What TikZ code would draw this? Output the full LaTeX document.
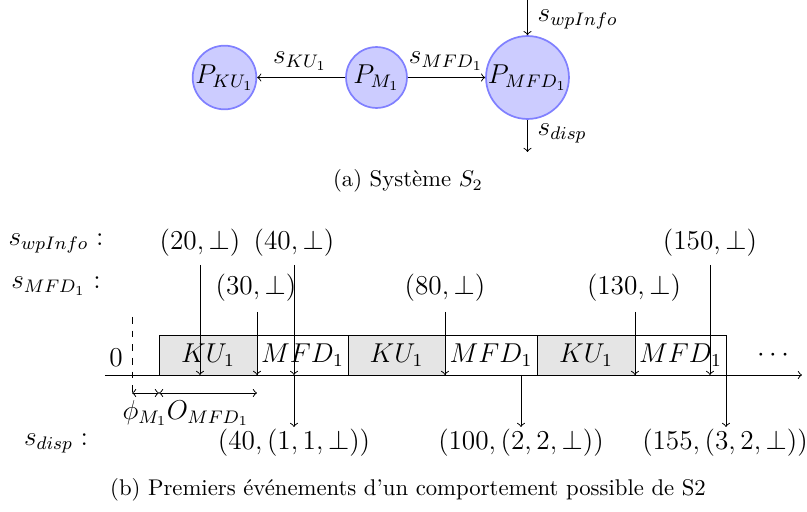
\documentclass[tikz,border=0pt]{standalone}
\begin{document}
\begin{tikzpicture}[x=0.44pt,y=-0.44pt,
  lbl/.style={font=\large,inner sep=1pt},
  captext/.style={font=\normalsize,inner sep=1pt},
  proc/.style={circle,draw=blue!50,fill=blue!20,line width=0.75pt,inner sep=0pt,font=\large},
  taskku/.style={draw,fill=gray!20},
  taskmfd/.style={draw,fill=white},
  evt/.style={->}
]
\useasboundingbox (0,0) rectangle (807,512);

% ---------- (a) system ----------
\node[proc,minimum size=27.3pt] (pku)  at (224.5,77.5) {$P_{KU_1}$};
\node[proc,minimum size=26.8pt] (pm)   at (376.5,77.5) {$P_{M_1}$};
\node[proc,minimum size=34.3pt] (pmfd) at (527.5,77.5) {$P_{MFD_1}$};
\coordinate (win)  at (527.5,0);
\coordinate (dout) at (527.5,152);
\draw[->] (pm) -- (pku);
\draw[->] (pm) -- (pmfd);
\draw[->] (win) -- (pmfd);
\draw[->] (pmfd) -- (dout);
\node[lbl] (lku)  at (300,61) {$s_{KU_1}$};
\node[lbl] (lmfd) at (446,61) {$s_{MFD_1}$};
\node[lbl,anchor=west] (lwp) at (535,19) {$s_{wpInfo}$};
\node[lbl,anchor=west] (ldisp) at (535,133) {$s_{disp}$};
\node[captext] (capa) at (408,181) {(a) Système $S_2$};

% ---------- (b) timeline ----------
\node[lbl] (rwp)   at (56,243) {$s_{wpInfo}:$};
\node[lbl] (rmfd)  at (56,286) {$s_{MFD_1}:$};
\node[lbl] (rdisp) at (56,443) {$s_{disp}:$};

\coordinate (ax0) at (105,375);
\coordinate (ax1) at (802,375);

\draw[taskku]  (159,335) rectangle (257,375);
\draw[taskmfd] (257,335) rectangle (348,375);
\draw[taskku]  (348,335) rectangle (445,375);
\draw[taskmfd] (445,335) rectangle (537,375);
\draw[taskku]  (537,335) rectangle (635,375);
\draw[taskmfd] (635,335) rectangle (726,375);
\node[lbl] (t1) at (208,355) {$KU_1$};
\node[lbl] (t2) at (302.5,355) {$MFD_1$};
\node[lbl] (t3) at (396.5,355) {$KU_1$};
\node[lbl] (t4) at (491,355) {$MFD_1$};
\node[lbl] (t5) at (586,355) {$KU_1$};
\node[lbl] (t6) at (680.5,355) {$MFD_1$};
\node[lbl] (dots) at (773,355) {$\cdots$};
\draw[->] (ax0) -- (ax1);

\node[lbl] (zero) at (116,358) {$0$};
\coordinate (d0) at (132,317);
\coordinate (d1) at (132,397);
\draw[dashed] (d0) -- (d1);

\coordinate (m0) at (132,393);
\coordinate (m1) at (159,393);
\coordinate (m2) at (257,393);
\draw[<->] (m0) -- (m1);
\draw[<->] (m1) -- (m2);
\node[lbl] (phi) at (145,413) {$\phi_{M_1}$};
\node[lbl] (off) at (208,413) {$O_{MFD_1}$};

% wpInfo events
\node[lbl] (w20)  at (200,243) {$(20,\bot)$};
\node[lbl] (w40)  at (294,243) {$(40,\bot)$};
\node[lbl] (w150) at (710,243) {$(150,\bot)$};
\coordinate (w20a)  at (200,265); \coordinate (w20b)  at (200,375);
\coordinate (w40a)  at (294,265); \coordinate (w40b)  at (294,375);
\coordinate (w150a) at (710,265); \coordinate (w150b) at (710,375);
\draw[evt] (w20a) -- (w20b);
\draw[evt] (w40a) -- (w40b);
\draw[evt] (w150a) -- (w150b);

% MFD events
\node[lbl] (f30)  at (256,288) {$(30,\bot)$};
\node[lbl] (f80)  at (445,288) {$(80,\bot)$};
\node[lbl] (f130) at (634,288) {$(130,\bot)$};
\coordinate (f30a)  at (257,312); \coordinate (f30b)  at (257,375);
\coordinate (f80a)  at (445,312); \coordinate (f80b)  at (445,375);
\coordinate (f130a) at (635,312); \coordinate (f130b) at (635,375);
\draw[evt] (f30a) -- (f30b);
\draw[evt] (f80a) -- (f80b);
\draw[evt] (f130a) -- (f130b);

% disp events
\coordinate (o1a) at (294,375); \coordinate (o1b) at (294,427);
\coordinate (o2a) at (521,375); \coordinate (o2b) at (521,427);
\coordinate (o3a) at (726,375); \coordinate (o3b) at (726,427);
\draw[evt] (o1a) -- (o1b);
\draw[evt] (o2a) -- (o2b);
\draw[evt] (o3a) -- (o3b);
\node[lbl] (o1) at (294,443) {$(40,(1,1,\bot))$};
\node[lbl] (o2) at (521,443) {$(100,(2,2,\bot))$};
\node[lbl] (o3) at (725,443) {$(155,(3,2,\bot))$};

\node[captext] (capb) at (408,490) {(b) Premiers événements d'un comportement possible de S2};
\end{tikzpicture}
\end{document}
